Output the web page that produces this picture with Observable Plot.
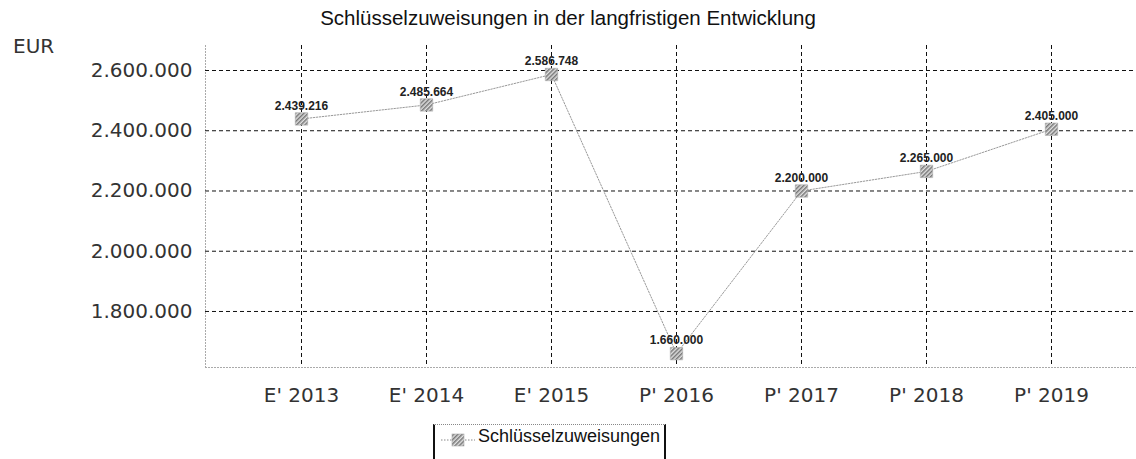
<!DOCTYPE html>
<html><head><meta charset="utf-8">
<script src="https://cdn.jsdelivr.net/npm/d3@7"></script>
<script src="https://cdn.jsdelivr.net/npm/@observablehq/plot@0.6"></script>
<style>
body{margin:0;background:#fff;}
#wrap{position:relative;width:1136px;height:459px;overflow:hidden;background:#fff;}
#title{height:36px;line-height:36px;text-align:center;font-family:"Liberation Sans";font-size:20.5px;color:#111;white-space:nowrap;}
#eur{position:absolute;left:13px;top:34px;font-family:"DejaVu Sans";font-size:20px;color:#333;}
#chart svg{display:block;}
#legend{position:absolute;left:433px;top:424px;width:233px;height:50px;border-left:2px solid #111;border-right:2px solid #111;border-top:1px dotted #888;box-sizing:border-box;}
#legend svg{position:absolute;left:6px;top:4px;}
#legend span{position:absolute;left:43px;top:1px;font-family:"Liberation Sans";font-size:18px;color:#111;white-space:nowrap;}
</style>
</head><body>
<div id="wrap">
  <div id="title"></div>
  <div id="eur"></div>
  <div id="chart"></div>
  <div id="legend"></div>
</div>
<script>
const titleText = "Schlüsselzuweisungen in der langfristigen Entwicklung";
const unitText = "EUR";
const seriesName = "Schlüsselzuweisungen";
const categories = ["E' 2013", "E' 2014", "E' 2015", "P' 2016", "P' 2017", "P' 2018", "P' 2019"];
const values = [2439216, 2485664, 2586748, 1660000, 2200000, 2265000, 2405000];
const yTicks = [1800000, 2000000, 2200000, 2400000, 2600000];
const yDomain = [1614000, 2683000];

const de = d3.formatLocale({decimal: ",", thousands: ".", grouping: [3], currency: ["", " €"]});
const fmt = de.format(",d");

const data = categories.map((c, i) => ({cat: c, value: values[i]}));

document.getElementById("title").textContent = titleText;
document.getElementById("eur").textContent = unitText;

const plot = Plot.plot({
  width: 1136,
  height: 374,
  marginTop: 9,
  marginBottom: 43,
  marginLeft: 205,
  marginRight: -10,
  x: {type: "point", domain: categories, padding: 0.75},
  y: {domain: yDomain},
  style: {fontFamily: "DejaVu Sans", fontSize: "20px", color: "#333", background: "white", overflow: "visible"},
  marks: [
    Plot.frame({anchor: "left", stroke: "#aaa", strokeDasharray: "1,2"}),
    Plot.frame({anchor: "bottom", stroke: "#aaa", strokeDasharray: "1,2"}),
    Plot.gridY(yTicks, {stroke: "#111", strokeOpacity: 1, strokeDasharray: "4,3"}),
    Plot.gridX(categories, {stroke: "#111", strokeOpacity: 1, strokeDasharray: "4,3"}),
    Plot.axisY(yTicks, {tickSize: 0, tickPadding: 13, tickFormat: fmt, label: null, fontSize: 20}),
    Plot.axisX({tickSize: 0, tickPadding: 20, label: null, fontSize: 20}),
    Plot.line(data, {x: "cat", y: "value", stroke: "#999", strokeWidth: 1, strokeDasharray: "1.5,1.5"}),
    Plot.dot(data, {x: "cat", y: "value", symbol: "square", r: 7, fill: "url(#hatch)", stroke: "#aaa", strokeWidth: 0.6}),
    Plot.text(data, {x: "cat", y: "value", text: d => fmt(d.value), dy: -13, fontSize: 12, fontWeight: "bold", fontFamily: "Liberation Sans", fill: "#222"})
  ]
});
d3.select(plot).insert("defs", ":first-child").html(
  `<pattern id="hatch" width="3" height="3" patternUnits="userSpaceOnUse" patternTransform="rotate(45)"><rect width="3" height="3" fill="#e0e0e0"/><rect width="1.5" height="3" fill="#777"/></pattern>`);
document.getElementById("chart").appendChild(plot);

document.getElementById("legend").innerHTML =
  `<svg width="34" height="22"><defs><pattern id="hatch2" width="3" height="3" patternUnits="userSpaceOnUse" patternTransform="rotate(45)"><rect width="3" height="3" fill="#e0e0e0"/><rect width="1.5" height="3" fill="#777"/></pattern></defs>
   <line x1="0" y1="11" x2="34" y2="11" stroke="#888" stroke-dasharray="1.5,1.5"/>
   <rect x="11" y="5" width="12" height="12" fill="url(#hatch2)" stroke="#aaa" stroke-width="0.6"/></svg><span></span>`;
document.querySelector("#legend span").textContent = seriesName;
</script>
</body></html>
